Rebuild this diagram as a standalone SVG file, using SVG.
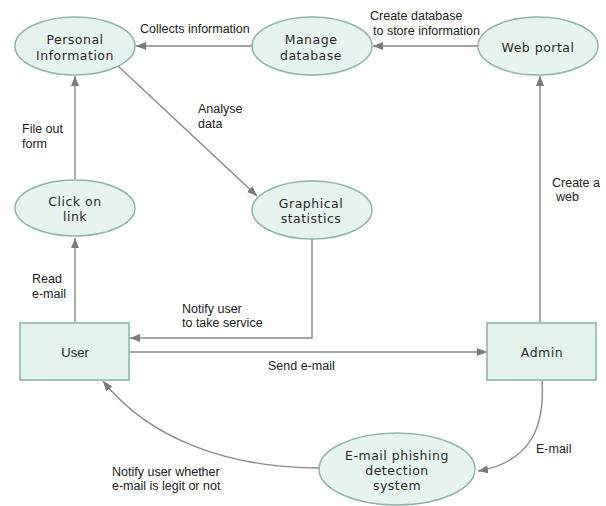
<svg xmlns="http://www.w3.org/2000/svg" width="606" height="506" viewBox="0 0 606 506">
<defs>
<style>
.node ellipse{fill:#e7f3ef;stroke:#8fb5a8;stroke-width:1.5}
.node rect{fill:#e4f2ec;stroke:#9cc5b7;stroke-width:2}
.nt{font-family:"DejaVu Sans",Verdana,sans-serif;font-size:12.5px;letter-spacing:0.5px;fill:#2a2a2a;text-anchor:middle}
.bt{font-family:"Liberation Sans",Arial,sans-serif;font-size:13px;fill:#2a2a2a;text-anchor:middle}
.lbl{font-family:"Liberation Sans",Arial,sans-serif;font-size:12.5px;fill:#222}
.conn path{fill:none;stroke:#8a8a8a;stroke-width:1.4}
</style>
<marker id="ah" markerUnits="userSpaceOnUse" markerWidth="12" markerHeight="10" refX="10" refY="4" orient="auto">
<path d="M0,0 L10,4 L0,8 z" fill="#7a7a7a"/>
</marker>
</defs>
<rect width="606" height="506" fill="#ffffff"/>
<g id="connectors" class="conn">
<path d="M252,46 L136,46" marker-end="url(#ah)"/>
<path d="M478,46 L373,46" marker-end="url(#ah)"/>
<path d="M75,180 L75,76" marker-end="url(#ah)"/>
<path d="M75,323 L75,238" marker-end="url(#ah)"/>
<path d="M118,66 L257,196" marker-end="url(#ah)"/>
<path d="M312,239 L312,338 L130,338" marker-end="url(#ah)"/>
<path d="M129,352 L487,352" marker-end="url(#ah)"/>
<path d="M540,323 L540,76" marker-end="url(#ah)"/>
<path d="M542,380 C545,425 532,462 478,471" marker-end="url(#ah)"/>
<path d="M320,468 C230,468 150,440 103,381" marker-end="url(#ah)"/>
</g>
<g id="labels" class="lbl">
<text x="140" y="33">Collects information</text>
<text x="370" y="20">Create database</text>
<text x="373" y="35">to store information</text>
<text x="198" y="113">Analyse</text>
<text x="198" y="128">data</text>
<text x="22" y="133">File out</text>
<text x="22" y="148">form</text>
<text x="32" y="283">Read</text>
<text x="32" y="298">e-mail</text>
<text x="182" y="313">Notify user</text>
<text x="182" y="327">to take service</text>
<text x="268" y="370">Send e-mail</text>
<text x="552" y="187">Create a</text>
<text x="556" y="201">web</text>
<text x="536" y="453">E-mail</text>
<text x="112" y="476">Notify user whether</text>
<text x="112" y="490">e-mail is legit or not</text>
</g>
<g id="personal-information" class="node">
<ellipse cx="75" cy="46" rx="60" ry="29"/>
<text class="nt" x="75" y="44">Personal</text>
<text class="nt" x="75" y="60">Information</text>
</g>
<g id="manage-database" class="node">
<ellipse cx="312" cy="46" rx="60" ry="29"/>
<text class="nt" x="311" y="44">Manage</text>
<text class="nt" x="311" y="60">database</text>
</g>
<g id="web-portal" class="node">
<ellipse cx="538" cy="46" rx="60" ry="29"/>
<text class="nt" x="538" y="52">Web portal</text>
</g>
<g id="click-on-link" class="node">
<ellipse cx="75" cy="208" rx="60" ry="28"/>
<text class="nt" x="75" y="206">Click on</text>
<text class="nt" x="75" y="221">link</text>
</g>
<g id="graphical-statistics" class="node">
<ellipse cx="312" cy="210" rx="60" ry="29"/>
<text class="nt" x="311" y="208">Graphical</text>
<text class="nt" x="311" y="223">statistics</text>
</g>
<g id="user" class="node">
<rect x="20" y="323" width="109" height="57"/>
<text class="bt" x="75" y="357">User</text>
</g>
<g id="admin" class="node">
<rect x="487" y="323" width="109" height="57"/>
<text class="nt" x="542" y="357">Admin</text>
</g>
<g id="phishing-detection" class="node">
<ellipse cx="397" cy="469" rx="78" ry="36"/>
<text class="nt" x="397" y="460">E-mail phishing</text>
<text class="nt" x="397" y="475">detection</text>
<text class="nt" x="397" y="490">system</text>
</g>
</svg>
